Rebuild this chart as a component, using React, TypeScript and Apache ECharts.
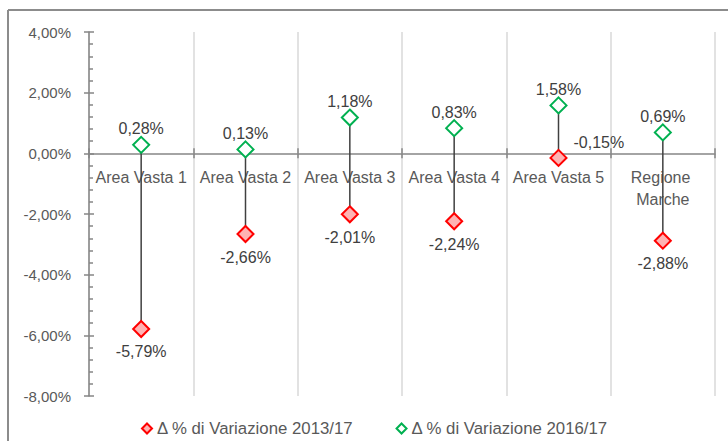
import React, { useEffect, useRef } from "react";
import * as echarts from "echarts";

const categories = ["Area Vasta 1", "Area Vasta 2", "Area Vasta 3", "Area Vasta 4", "Area Vasta 5", "Regione Marche"];
const var2013_17 = [-5.79, -2.66, -2.01, -2.24, -0.15, -2.88];
const var2016_17 = [0.28, 0.13, 1.18, 0.83, 1.58, 0.69];
const yTicks = { min: -8, max: 4, interval: 2 };
const seriesNames = ["Δ % di Variazione 2013/17", "Δ % di Variazione 2016/17"];

const fmt = (v: number) => v.toFixed(2).replace(".", ",") + "%";
const FONT = "Liberation Sans";

export default function App() {
  const ref = useRef<HTMLDivElement>(null);
  useEffect(() => {
    if (!ref.current) return;
    const chart = echarts.init(ref.current, undefined, { renderer: "svg" });
    const axisGray = "#868686";
    chart.setOption({
      animation: false,
      backgroundColor: "#ffffff",
      textStyle: { fontFamily: FONT },
      grid: { left: 89, right: 13, top: 32, bottom: 45, containLabel: false, outerBoundsMode: "none" },
      graphic: [
        { type: "line", shape: { x1: 8, y1: 10, x2: 728, y2: 10 }, style: { stroke: "#8c8c8c", lineWidth: 2 }, silent: true },
        { type: "line", shape: { x1: 8, y1: 10, x2: 8, y2: 441 }, style: { stroke: "#8c8c8c", lineWidth: 2 }, silent: true },
      ],
      legend: {
        left: 136,
        top: 415,
        itemWidth: 10,
        itemHeight: 10,
        itemGap: 42,
        icon: "diamond",
        textStyle: { color: "#595959", fontSize: 16.8, fontFamily: FONT },
        data: seriesNames,
      },
      xAxis: [
        {
          type: "category",
          data: categories,
          boundaryGap: true,
          axisLine: { onZero: true, lineStyle: { color: axisGray, width: 1.5 } },
          axisTick: { show: true, length: 5, lineStyle: { color: axisGray, width: 1.5 }, interval: 0 },
          axisLabel: { show: false },
          splitLine: { show: true, interval: 0, lineStyle: { color: "#d9d9d9", width: 1.5 } },
        },
        {
          type: "category",
          data: categories,
          position: "bottom",
          boundaryGap: true,
          axisLine: { show: false, onZero: true },
          axisTick: { show: true, inside: true, length: 5, lineStyle: { color: axisGray, width: 1.5 }, interval: 0 },
          axisLabel: { show: false },
          splitLine: { show: false },
        },
      ],
      yAxis: [
        {
          type: "value",
          min: yTicks.min,
          max: yTicks.max,
          interval: yTicks.interval,
          axisLine: { show: true, lineStyle: { color: axisGray, width: 1.5 } },
          axisTick: { show: true, length: 5, lineStyle: { color: axisGray, width: 1.5 } },
          axisLabel: { color: "#595959", fontSize: 15, fontFamily: FONT, margin: 18, formatter: (v: number) => fmt(v) },
          splitLine: { show: false },
        },
        {
          type: "value",
          position: "left",
          min: yTicks.min,
          max: yTicks.max,
          interval: yTicks.interval,
          axisLine: { show: false },
          axisTick: { show: true, inside: true, length: 5, lineStyle: { color: axisGray, width: 1.5 } },
          minorTick: { show: true, splitNumber: 5, length: 4, lineStyle: { color: axisGray, width: 1.5 } },
          axisLabel: { show: false },
          splitLine: { show: false },
        },
      ],
      series: [
        {
          type: "custom",
          name: "categoryLabels",
          z: 0,
          silent: true,
          renderItem: (params: any, api: any) => {
            const p = api.coord([api.value(0), 0]);
            return {
              type: "text",
              x: p[0],
              y: p[1] + 13,
              style: {
                text: categories[params.dataIndex],
                align: "center",
                verticalAlign: "top",
                fill: "#595959",
                fontSize: 16,
                fontFamily: FONT,
                lineHeight: 22,
                width: 100,
                overflow: "break",
              },
            };
          },
          encode: { x: 0, y: 1 },
          data: categories.map((_, i) => [i, 0]),
        },
        {
          type: "custom",
          name: "hilo",
          z: 1,
          renderItem: (params: any, api: any) => {
            const p1 = api.coord([api.value(0), api.value(1)]);
            const p2 = api.coord([api.value(0), api.value(2)]);
            return {
              type: "line",
              shape: { x1: p1[0], y1: p1[1], x2: p2[0], y2: p2[1] },
              style: { stroke: "#404040", lineWidth: 1.5 },
            };
          },
          encode: { x: 0, y: [1, 2] },
          data: categories.map((_, i) => [i, var2016_17[i], var2013_17[i]]),
          silent: true,
        },
        {
          type: "scatter",
          name: seriesNames[0],
          z: 3,
          symbol: "diamond",
          symbolSize: 16,
          itemStyle: { color: "#ffb3b3", borderColor: "#ff0000", borderWidth: 2, opacity: 1 },
          label: {
            show: true,
            position: "bottom",
            distance: 6,
            color: "#404040",
            fontSize: 16,
            fontFamily: FONT,
            formatter: (p: any) => fmt(Array.isArray(p.value) ? p.value[1] : p.value),
          },
          data: var2013_17.map((v, i) =>
            i === 4 ? { value: v, label: { position: "right", distance: 6, offset: [0, -15] } } : v
          ),
        },
        {
          type: "scatter",
          name: seriesNames[1],
          z: 3,
          symbol: "diamond",
          symbolSize: 16,
          itemStyle: { color: "#ffffff", borderColor: "#00b050", borderWidth: 2, opacity: 1 },
          label: {
            show: true,
            position: "top",
            distance: -1,
            color: "#404040",
            fontSize: 16,
            fontFamily: FONT,
            formatter: (p: any) => fmt(Array.isArray(p.value) ? p.value[1] : p.value),
          },
          data: var2016_17,
        },
      ],
    });
    return () => chart.dispose();
  }, []);
  return <div ref={ref} style={{ position: "fixed", left: 0, top: 0, width: 728, height: 441 }} />;
}
